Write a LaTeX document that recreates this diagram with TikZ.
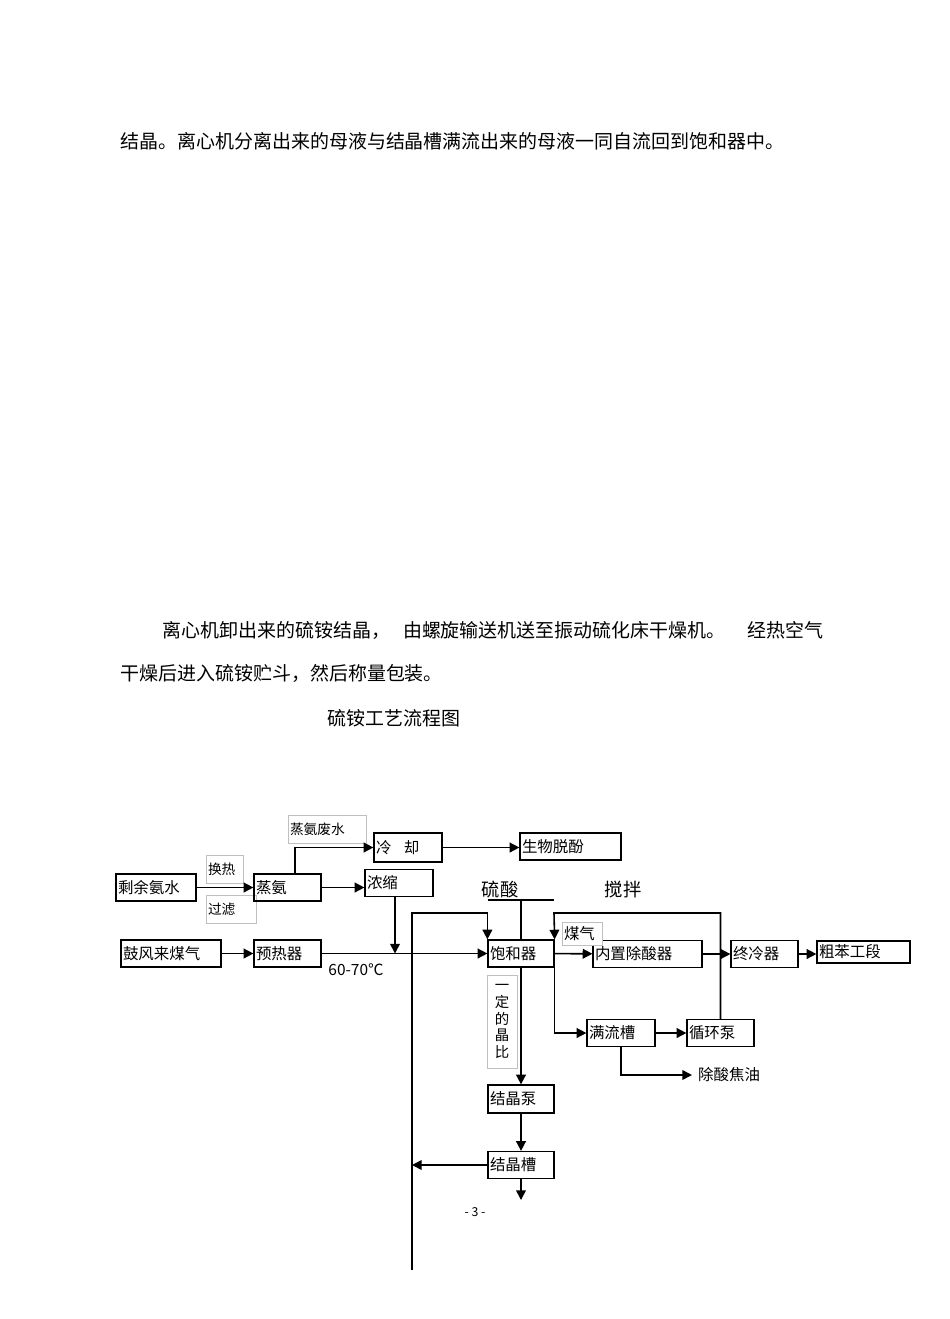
\documentclass[tikz,border=0pt]{standalone}
\usepackage{fontspec}
\setmainfont{Noto Sans CJK SC}
\usepackage{tikz}
\usetikzlibrary{
  arrows.meta,
  positioning
}
\newcommand{\parafont}{\fontsize{10.8pt}{13pt}\selectfont}
\newcommand{\flowfont}{\fontsize{8.8pt}{10pt}\selectfont}
\newcommand{\tagfont}{\fontsize{7.8pt}{9.6pt}\selectfont}
\newcommand{\headfont}{\fontsize{10.4pt}{12pt}\selectfont}
\newcommand{\pagefont}{\fontsize{7pt}{8pt}\selectfont}

\begin{document}
\begin{tikzpicture}[
			x=0.02cm, y=-0.02cm,
			box/.style={draw, line width=0.7pt, inner xsep=0.04cm, inner ysep=0pt,
				minimum height=0.54cm, align=left, font=\flowfont},
			lbl/.style={draw=black!25, line width=0.5pt, fill=white, inner xsep=0.04cm,
				inner ysep=0pt, minimum height=0.56cm, align=left, font=\tagfont},
			txt/.style={inner sep=0pt, anchor=west, font=\parafont},
			arr/.style={-{Triangle[length=5.5pt,width=5.5pt]}, line width=0.9pt},
			ln/.style={line width=0.9pt}
			]
			\path[use as bounding box, fill=white] (0,0) rectangle (950,1319);
			% text above the chart
			\node[txt] (p1) at (120,141) {结晶。离心机分离出来的母液与结晶槽满流出来的母液一同自流回到饱和器中。};
			\node[txt] (p2) at (162,630) {离心机卸出来的硫铵结晶，\hspace{0.26cm}由螺旋输送机送至振动硫化床干燥机。\hspace{0.44cm}经热空气};
			\node[txt] (p3) at (120,673) {干燥后进入硫铵贮斗，然后称量包装。};
			\node[txt] (title) at (327,718) {硫铵工艺流程图};
			% ammonia water branch
			\node[lbl, text width=0.66cm] (hx) at (224.5,869) {换热};
			\node[lbl, text width=0.92cm] (flt) at (231,909.5) {过滤};
			\node[lbl, text width=1.48cm] (ww) at (327,829) {蒸氨废水};
			\node[box, text width=1.52cm] (res) at (156,887.5) {剩余氨水};
			\node[box, text width=1.26cm] (dist) at (287.5,887.5) {蒸氨};
			\node[box, text width=1.28cm, minimum height=0.58cm] (cool) at (408,847.5) {冷\hspace{0.8em}却};
			\node[box, text width=1.94cm] (bio) at (570.5,846.5) {生物脱酚};
			\node[box, text width=1.28cm] (conc) at (399,883) {浓缩};
			\draw[arr] (res) -- (dist);
			\draw[arr] ([xshift=0.15cm]dist.north) |- (cool.west);
			\draw[arr] (cool.east) -- (cool.east -| bio.west);
			\draw[arr] (dist.east) -- (dist.east -| conc.west);
			% gas line
			\node[box, text width=1.92cm] (gas) at (171,953.5) {鼓风来煤气};
			\node[box, text width=1.26cm] (pre) at (287.5,953.5) {预热器};
			\node[box, text width=1.24cm] (sat) at (521,953.5) {饱和器};
			\node[box, text width=2.10cm] (acid) at (647.5,954) {内置除酸器};
			\node[lbl, text width=0.72cm, minimum height=0.46cm, font=\flowfont] (gasl) at (582,933.5) {煤气};
			\node[box, text width=1.26cm] (fin) at (764.5,954) {终冷器};
			\node[box, text width=1.78cm, minimum height=0.44cm] (benz) at (863.5,952) {粗苯工段};
			\node[font=\flowfont] (temp) at (356,970) {60-70℃};
			\node[font=\headfont] (acidin) at (500,890) {硫酸};
			\node[font=\headfont] (stir) at (623,890) {搅拌};
			\coordinate (jn) at (395,953.5);
			\coordinate (bl) at (488,900);
			\coordinate (br) at (554,900);
			\draw[arr] (conc.south -| jn) -- (jn);
			\draw[arr] (gas) -- (pre);
			\draw[arr] (pre) -- (sat);
			\draw[ln] (bl) -- (br);
			\draw[ln] (sat.north |- bl) -- (sat.north);
			\draw[arr] (sat) -- (acid);
			\draw[arr] (acid) -- (fin);
			\draw[arr] (fin.east) -- (fin.east -| benz.west);
			% circulation below the saturator
			\node[box, text width=1.28cm] (over) at (621,1033) {满流槽};
			\node[box, text width=1.26cm] (circ) at (720.5,1033) {循环泵};
			\node[font=\flowfont, anchor=west] (tar) at (692,1075) {除酸焦油};
			\coordinate (lt) at (554,913);
			\draw[arr] (circ.north) |- (lt) -- (sat.north east);
			\draw[arr] (sat.south east) |- (over.west);
			\draw[arr] (over) -- (circ);
			\draw[arr] (over.south) |- (tar.west);
			% crystals and mother liquor return
			\node[lbl, minimum width=0.6cm, minimum height=1.86cm, align=center,
				font=\fontsize{8.2pt}{9.6pt}\selectfont] (ratio) at (502,1021.5) {一\\定\\的\\晶\\比};
			\node[box, text width=1.24cm, minimum height=0.56cm] (cpump) at (521,1099) {结晶泵};
			\node[box, text width=1.24cm] (ctank) at (521,1165) {结晶槽};
			\coordinate (rt) at (412,913);
			\coordinate (rb) at (412,1270);
			\coordinate (cout) at (521,1200);
			\draw[arr] (sat.south) -- (cpump.north);
			\draw[arr] (cpump) -- (ctank);
			\draw[arr] (ctank.south) -- (cout);
			\draw[arr] (ctank.west) -- (ctank.west -| rb);
			\draw[arr] (rb) -- (rt) -| (sat.north west);
			\node[font=\pagefont] (pg) at (475,1212) {- 3 -};
	\end{tikzpicture}
\end{document}
